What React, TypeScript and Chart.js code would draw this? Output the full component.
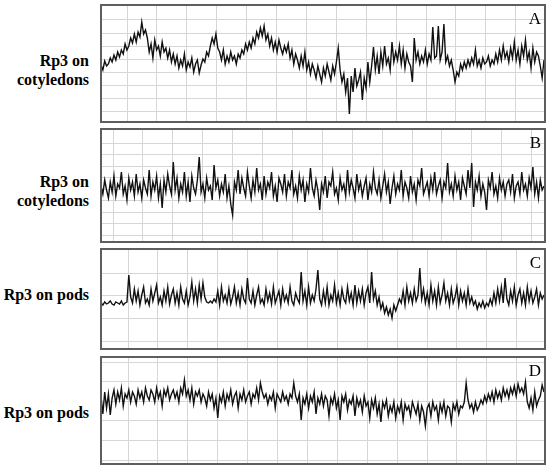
import React, { useEffect, useRef } from "react";
import { Chart, registerables } from "chart.js";

Chart.register(...registerables);

// Signal amplitude readings (height above panel bottom), 240 samples per panel
const panelA: number[] = [
  57, 52, 61, 56, 58, 64, 60, 67, 62, 70, 65, 72, 68, 78, 72, 76, 84, 79, 88, 80,
  90, 85, 100, 88, 92, 84, 70, 78, 64, 82, 72, 76, 66, 80, 70, 74, 64, 72, 60, 68,
  58, 66, 54, 62, 56, 68, 52, 60, 55, 64, 50, 58, 62, 49, 57, 63, 60, 70, 66, 76,
  84, 78, 88, 74, 70, 62, 72, 58, 66, 60, 70, 62, 66, 58, 68, 64, 72, 68, 78, 72,
  80, 74, 84, 78, 90, 84, 94, 86, 96, 82, 88, 76, 84, 72, 80, 70, 82, 74, 68, 76,
  70, 78, 64, 72, 58, 68, 62, 54, 66, 56, 70, 52, 60, 48, 58, 52, 44, 56, 48, 40,
  54, 46, 58, 50, 42, 56, 48, 60, 74, 52, 40, 48, 30, 44, 8, 46, 30, 54, 36, 42,
  50, 22, 44, 34, 60, 40, 56, 75, 52, 66, 48, 70, 56, 76, 58, 64, 52, 80, 60, 70,
  62, 76, 58, 72, 54, 68, 60, 56, 40, 84, 62, 70, 58, 66, 60, 72, 58, 68, 62, 95,
  64, 66, 96, 62, 70, 98, 60, 66, 56, 62, 52, 40, 50, 46, 58, 52, 60, 54, 62, 56,
  64, 58, 72, 56, 62, 54, 64, 58, 60, 66, 56, 62, 58, 68, 60, 72, 62, 76, 64, 70,
  60, 74, 64, 80, 62, 72, 58, 76, 66, 82, 62, 70, 54, 74, 60, 70, 66, 56, 44, 62,
];

const panelB: number[] = [
  56, 48, 62, 52, 44, 60, 50, 66, 46, 58, 54, 70, 48, 56, 42, 64, 52, 60, 46, 68,
  50, 58, 44, 62, 54, 48, 72, 46, 60, 52, 66, 44, 58, 34, 62, 50, 68, 56, 48, 80,
  52, 64, 44, 58, 50, 70, 46, 60, 40, 66, 54, 48, 62, 85, 50, 58, 44, 64, 52, 56,
  42, 77, 54, 62, 46, 58, 50, 68, 44, 56, 38, 27, 60, 52, 72, 48, 64, 54, 46, 70,
  56, 44, 62, 50, 74, 52, 58, 42, 66, 48, 60, 54, 70, 46, 56, 40, 64, 58, 50, 68,
  46, 60, 54, 72, 48, 56, 44, 66, 52, 62, 40, 58, 50, 74, 54, 46, 62, 52, 32, 58,
  50, 66, 44, 60, 56, 70, 48, 54, 42, 64, 52, 58, 46, 72, 50, 62, 54, 44, 68, 52,
  60, 46, 56, 64, 42, 58, 50, 70, 54, 48, 62, 44, 56, 68, 50, 60, 38, 54, 66, 48,
  58, 52, 72, 46, 60, 54, 44, 66, 50, 58, 42, 62, 56, 74, 48, 54, 60, 46, 64, 52,
  70, 48, 56, 62, 44, 60, 54, 79, 50, 58, 46, 66, 52, 60, 42, 64, 56, 48, 72, 54,
  79, 35, 60, 52, 66, 46, 58, 50, 32, 62, 54, 70, 48, 56, 44, 64, 52, 60, 46, 58,
  62, 50, 68, 44, 56, 60, 48, 70, 52, 58, 46, 64, 54, 75, 48, 60, 44, 62, 52, 56,
];

const panelC: number[] = [
  46, 44, 47, 45, 46, 48, 45, 44, 47, 46, 45, 48, 44, 46, 47, 74, 52, 46, 60, 48,
  58, 44, 54, 62, 46, 50, 44, 60, 48, 56, 64, 46, 52, 44, 58, 48, 62, 45, 54, 60,
  46, 56, 44, 62, 50, 46, 58, 44, 52, 67, 48, 60, 46, 64, 50, 66, 52, 47, 46, 48,
  46, 50, 47, 58, 44, 62, 48, 54, 46, 60, 45, 52, 62, 46, 56, 44, 60, 50, 46, 71,
  50, 46, 58, 44, 54, 62, 46, 50, 44, 60, 48, 56, 45, 62, 46, 52, 58, 44, 60, 48,
  54, 46, 62, 48, 44, 56, 50, 46, 77, 48, 58, 44, 62, 46, 54, 48, 60, 79, 50, 44,
  58, 46, 62, 44, 54, 48, 64, 46, 56, 44, 60, 50, 46, 62, 48, 56, 44, 64, 46, 58,
  48, 60, 44, 56, 62, 46, 77, 50, 58, 44, 52, 40, 46, 36, 42, 34, 40, 31, 44, 38,
  44, 50, 46, 58, 44, 62, 48, 56, 46, 60, 48, 54, 81, 50, 60, 46, 56, 44, 64, 48,
  58, 44, 62, 46, 54, 66, 48, 56, 44, 60, 46, 52, 62, 44, 58, 48, 56, 44, 60, 46,
  52, 44, 48, 40, 46, 42, 48, 41, 46, 43, 50, 44, 56, 46, 60, 48, 62, 46, 71, 50,
  44, 58, 48, 62, 44, 54, 60, 46, 56, 44, 62, 48, 58, 46, 52, 60, 44, 56, 50, 54,
];

const panelD: number[] = [
  68, 50, 72, 56, 70, 49, 66, 74, 60, 72, 64, 76, 58, 70, 66, 74, 62, 72, 68, 60,
  74, 66, 72, 62, 76, 68, 64, 74, 70, 62, 76, 66, 72, 58, 74, 68, 76, 64, 70, 74,
  66, 72, 62, 76, 70, 84, 68, 74, 64, 76, 60, 72, 68, 74, 62, 70, 66, 58, 72, 64,
  70, 56, 66, 46, 68, 62, 72, 58, 70, 64, 74, 60, 68, 72, 56, 70, 64, 74, 62, 68,
  72, 60, 70, 66, 76, 64, 81, 72, 66, 70, 60, 68, 64, 72, 56, 70, 66, 62, 72, 64,
  68, 60, 70, 66, 81, 68, 62, 70, 44, 66, 60, 70, 56, 68, 62, 72, 50, 66, 60, 70,
  58, 68, 64, 48, 66, 60, 70, 56, 64, 44, 68, 62, 70, 54, 64, 60, 68, 48, 66, 58,
  64, 52, 68, 58, 62, 46, 64, 56, 66, 50, 60, 42, 62, 56, 64, 48, 58, 52, 62, 46,
  58, 52, 62, 44, 60, 54, 58, 48, 62, 56, 50, 60, 44, 58, 52, 38, 56, 60, 48, 62,
  54, 58, 44, 60, 52, 62, 48, 58, 56, 42, 60, 54, 62, 50, 58, 56, 62, 81, 64, 56,
  60, 52, 62, 54, 58, 64, 60, 68, 62, 70, 64, 72, 62, 74, 66, 72, 64, 76, 68, 74,
  66, 76, 70, 78, 68, 80, 72, 76, 70, 82, 62, 56, 66, 54, 72, 58, 64, 68, 79, 72,
];

const panelLetters = ["A", "B", "C", "D"];
const panelLabels = [
  ["Rp3 on", "cotyledons"],
  ["Rp3 on", "cotyledons"],
  ["Rp3 on pods"],
  ["Rp3 on pods"],
];
const panelSeries = [panelA, panelB, panelC, panelD];

// layout (pixels)
const BOX_LEFT = 101;
const BOX_RIGHT = 545;
const boxes = [
  { top: 5, bottom: 122, labelTop: 51, gridX0: 26, gridXn: 14, gridY0: 10.3, gridYStep: 13.1, gridYn: 8 },
  { top: 129, bottom: 242, labelTop: 172, gridX0: 12, gridXn: 15, gridY0: 7, gridYStep: 11.5, gridYn: 9 },
  { top: 249, bottom: 349, labelTop: 285, gridX0: 27, gridXn: 14, gridY0: 8, gridYStep: 22.6, gridYn: 4 },
  { top: 357, bottom: 464, labelTop: 403, gridX0: 27, gridXn: 14, gridY0: 4, gridYStep: 19.6, gridYn: 6 },
];
const GRID_X_STEP = 29.9;

const boxPlugin = {
  id: "boxBorder",
  afterDraw(chart: any) {
    const { ctx, chartArea: a } = chart;
    ctx.save();
    ctx.strokeStyle = "#5e5e5e";
    ctx.lineWidth = 2;
    ctx.strokeRect(a.left + 1, a.top + 1, a.right - a.left - 2, a.bottom - a.top - 2);
    ctx.restore();
  },
};

function Panel({ idx }: { idx: number }) {
  const ref = useRef<HTMLCanvasElement | null>(null);
  const b = boxes[idx];
  const series = panelSeries[idx];
  const n = series.length;
  const canvasLeft = BOX_LEFT - 1;
  const canvasWidth = BOX_RIGHT - BOX_LEFT + 2;
  const canvasTop = b.top - 1;
  const canvasHeight = b.bottom - b.top + 2;

  useEffect(() => {
    if (!ref.current) return;
    const span = BOX_RIGHT - BOX_LEFT - 1;
    const perPx = (n - 1) / span;
    const xmin = -1 * perPx;
    const xmax = xmin + canvasWidth * perPx;
    const xTicks: number[] = [];
    for (let k = 0; k < b.gridXn; k++) xTicks.push((b.gridX0 + k * GRID_X_STEP) * perPx);
    const yTicks: number[] = [];
    for (let k = 0; k < b.gridYn; k++) yTicks.push(b.gridY0 + k * b.gridYStep);

    const chart = new Chart(ref.current, {
      type: "line",
      data: {
        datasets: [
          {
            data: series.map((v, i) => ({ x: i, y: v })),
            borderColor: "#111111",
            borderWidth: 1.4,
            pointRadius: 0,
            tension: 0,
            fill: false,
          },
        ],
      },
      options: {
        responsive: false,
        animation: false,
        events: [],
        layout: { padding: 0 },
        plugins: { legend: { display: false }, tooltip: { enabled: false }, title: { display: false } },
        scales: {
          x: {
            type: "linear",
            min: xmin,
            max: xmax,
            afterBuildTicks: (scale: any) => {
              scale.ticks = xTicks.map((v) => ({ value: v }));
            },
            ticks: { display: false },
            grid: { color: "#d6d6d6", lineWidth: 1, drawTicks: false },
            border: { display: false },
          },
          y: {
            type: "linear",
            min: -1,
            max: canvasHeight - 1,
            afterBuildTicks: (scale: any) => {
              scale.ticks = yTicks.map((v) => ({ value: v }));
            },
            ticks: { display: false },
            grid: { color: "#d6d6d6", lineWidth: 1, drawTicks: false },
            border: { display: false },
          },
        },
      },
      plugins: [boxPlugin],
    } as any);
    return () => chart.destroy();
  }, []);

  return (
    <>
      <canvas
        ref={ref}
        width={canvasWidth}
        height={canvasHeight}
        style={{ position: "absolute", left: canvasLeft, top: canvasTop, width: canvasWidth, height: canvasHeight }}
      />
      <div
        style={{
          position: "absolute",
          left: 0,
          width: 89,
          top: b.labelTop,
          textAlign: "right",
          fontFamily: "'Liberation Serif', 'Times New Roman', serif",
          fontWeight: "bold",
          fontSize: 16,
          lineHeight: "19px",
          color: "#000",
          whiteSpace: "nowrap",
        }}
      >
        {panelLabels[idx].map((t, i) => (
          <div key={i}>{t}</div>
        ))}
      </div>
      <div
        style={{
          position: "absolute",
          left: 480,
          width: 61,
          top: b.top + 5,
          textAlign: "right",
          fontFamily: "'Liberation Serif', 'Times New Roman', serif",
          fontSize: 17,
          lineHeight: "17px",
          color: "#000",
        }}
      >
        {panelLetters[idx]}
      </div>
    </>
  );
}

export default function App() {
  return (
    <div style={{ position: "fixed", left: 0, top: 0, width: 550, height: 470, background: "#fff", overflow: "hidden" }}>
      {boxes.map((_, i) => (
        <Panel key={i} idx={i} />
      ))}
    </div>
  );
}
